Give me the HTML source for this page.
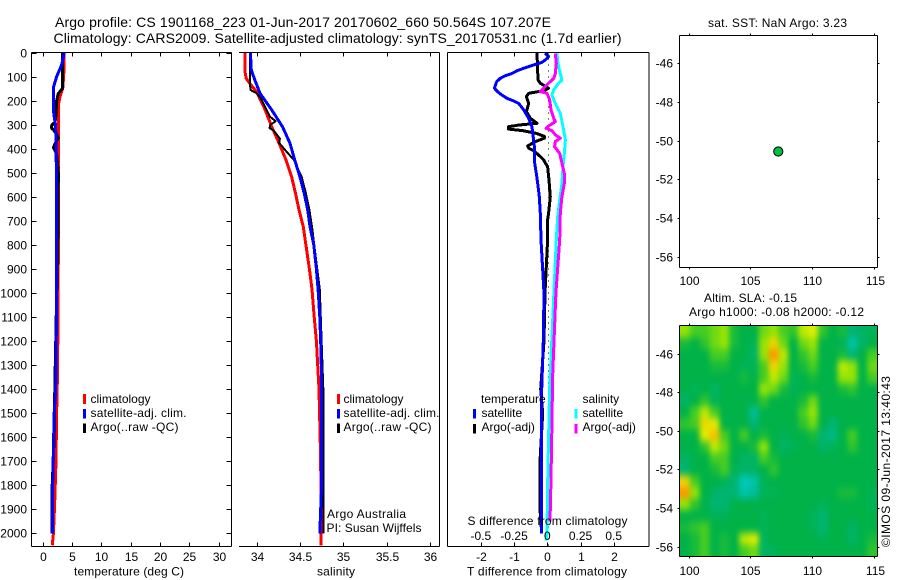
<!DOCTYPE html>
<html>
<head>
<meta charset="utf-8">
<title>Argo profile</title>
<style>
html,body{margin:0;padding:0;background:#fff;}
svg{display:block;}
text{font-family:"Liberation Sans",sans-serif;font-size:12px;fill:#000;}
.t{font-size:14px;}
</style>
</head>
<body>
<svg id="chart" width="900" height="580" viewBox="0 0 900 580" xmlns="http://www.w3.org/2000/svg">
<defs>
<clipPath id="hclip"><rect x="680" y="326" width="197" height="230"/></clipPath>
<filter id="hblur" x="-10%" y="-10%" width="120%" height="120%" color-interpolation-filters="sRGB"><feGaussianBlur stdDeviation="2.6 3.8"/></filter>
</defs>
<text class="t" x="55" y="27" textLength="496" lengthAdjust="spacing">Argo profile: CS 1901168_223 01-Jun-2017 20170602_660 50.564S 107.207E</text>
<text class="t" x="53.5" y="43" textLength="568" lengthAdjust="spacing">Climatology: CARS2009. Satellite-adjusted climatology: synTS_20170531.nc (1.7d earlier)</text>

<g id="p1"></g>
<g id="p2"></g>
<g id="p3"></g>
<g id="p4"></g>
<g id="p5"></g>

<text x="74" y="575.5" textLength="110" lengthAdjust="spacing">temperature (deg C)</text>
<text x="317" y="575.5" textLength="38" lengthAdjust="spacing">salinity</text>
<text x="467" y="575.5" textLength="160" lengthAdjust="spacing">T difference from climatology</text>
<text x="467.5" y="525" textLength="160" lengthAdjust="spacing">S difference from climatology</text>

<g>
<rect x="83" y="394" width="3" height="10" fill="#f00"/>
<rect x="83" y="409" width="3" height="9.5" fill="#00f"/>
<rect x="83" y="423.5" width="3" height="9.5" fill="#000"/>
<text x="90.5" y="403">climatology</text>
<text x="90.5" y="417" textLength="96" lengthAdjust="spacing">satellite-adj. clim.</text>
<text x="90.5" y="431" textLength="88" lengthAdjust="spacing">Argo(..raw -QC)</text>
</g>
<g>
<rect x="337" y="394" width="3" height="10" fill="#f00"/>
<rect x="337" y="409" width="3" height="9.5" fill="#00f"/>
<rect x="337" y="423.5" width="3" height="9.5" fill="#000"/>
<text x="343.5" y="403">climatology</text>
<text x="343.5" y="417" textLength="96" lengthAdjust="spacing">satellite-adj. clim.</text>
<text x="343.5" y="431" textLength="88" lengthAdjust="spacing">Argo(..raw -QC)</text>
<text x="327" y="518" textLength="79" lengthAdjust="spacing">Argo Australia</text>
<text x="326.5" y="532" textLength="95" lengthAdjust="spacing">PI: Susan Wijffels</text>
</g>
<g>
<rect x="473" y="409" width="3" height="9.5" fill="#00f"/>
<rect x="473" y="424" width="3" height="9.5" fill="#000"/>
<rect x="574.5" y="409" width="3" height="9.5" fill="#0ff"/>
<rect x="574.5" y="424" width="3" height="9.5" fill="#f0f"/>
<text x="481" y="403">temperature</text>
<text x="582.5" y="403">salinity</text>
<text x="481.5" y="417">satellite</text>
<text x="481.5" y="431">Argo(-adj)</text>
<text x="582.5" y="417">satellite</text>
<text x="582.5" y="431">Argo(-adj)</text>
</g>

<text x="708" y="27" textLength="139" lengthAdjust="spacing">sat. SST: NaN Argo: 3.23</text>
<text x="704" y="302" textLength="93" lengthAdjust="spacing">Altim. SLA: -0.15</text>
<text x="689" y="316" textLength="175" lengthAdjust="spacing">Argo h1000: -0.08 h2000: -0.12</text>
<text transform="translate(890,547) rotate(-90)" x="0" y="0" textLength="171" lengthAdjust="spacing">©IMOS 09-Jun-2017 13:40:43</text>
</svg>

<script>
// ---------- axis tick labels ----------
var depthTicks = [0,100,200,300,400,500,600,700,800,900,1000,1100,1200,1300,1400,1500,1600,1700,1800,1900,2000];
var tempTicks = [0,5,10,15,20,25,30];
var salTicks = [34,34.5,35,35.5,36];
var salTickLabels = ['34','34.5','35','35.5','36'];
var tDiffTicks = [-2,-1,0,1,2];
var sDiffTicks = [-0.5,-0.25,0,0.25,0.5];
var sDiffTickLabels = ['-0.5','-0.25','0','0.25','0.5'];
var lonTicks = [100,105,110,115];
var latTicks = [-46,-48,-50,-52,-54,-56];

// ---------- temperature profiles ----------
var tempClimDepth = [0,50,100,150,180,210,300,500,800,1000,1200,1400,1500,1700,1870,2000,2050];
var tempClim = [3.7,3.7,3.6,3.44,3.0,2.76,2.7,2.7,2.72,2.62,2.6,2.5,2.4,2.3,2.07,1.85,1.67];
var tempSatDepth = [0,50,100,145,240,290,300,430,500,1000,1400,1500,1650,1800,2000];
var tempSat = [3.72,3.27,2.4,1.85,1.85,2.13,2.25,2.3,2.42,2.42,2.25,2.0,1.85,1.73,1.67];
var tempArgoDepth = [0,100,150,170,200,260,290,300,305,315,320,340,355,370,395,420,500,700,1000,1400,1600,1800,2000];
var tempArgo = [3.38,3.38,3.38,2.7,2.4,2.3,2.13,1.6,1.56,1.56,1.85,2.4,2.7,2.3,1.85,2.4,2.7,2.65,2.42,2.1,2.0,1.65,1.65];

// ---------- salinity profiles ----------
var salClimDepth = [0,72,106,127,162,238,308,377,446,516,585,654,724,800,900,985,1100,1200,1400,1700,2000,2050];
var salClim = [33.87,33.865,33.88,33.92,34.0,34.1,34.175,34.26,34.34,34.405,34.45,34.49,34.54,34.57,34.61,34.64,34.665,34.69,34.72,34.74,34.745,34.745];
var salSatDepth = [0,72,113,169,238,308,377,446,516,585,654,724,800,900,985,1100,1250,1400,1800,1900,2000];
var salSat = [33.93,33.94,33.98,34.04,34.175,34.3,34.386,34.44,34.5,34.55,34.59,34.617,34.66,34.69,34.71,34.73,34.745,34.75,34.75,34.74,34.73];
var salArgoDepth = [0,120,155,169,190,240,266,285,300,313,325,358,375,405,446,516,585,654,724,985,1400,2000];
var salArgo = [33.925,33.925,33.93,34.0,34.05,34.12,34.155,34.22,34.16,34.15,34.2,34.27,34.26,34.33,34.43,34.52,34.57,34.61,34.64,34.73,34.77,34.77];

// ---------- difference profiles ----------
var tDiffSatDepth = [2,16,30,40,51,65,75,86,96,107,120,134,148,162,176,190,201,211,238,273,308,391,460,502,544,599,668,779,1000,1200,1400,2000];
var tDiffSat = [-0.06,0.04,-0.06,-0.16,-0.41,-0.71,-0.91,-1.06,-1.27,-1.42,-1.52,-1.56,-1.59,-1.5,-1.37,-1.21,-1.01,-0.86,-0.71,-0.56,-0.46,-0.39,-0.38,-0.33,-0.29,-0.24,-0.21,-0.19,-0.1,-0.12,-0.17,-0.17];
var tDiffArgoDepth = [2,113,127,148,158,169,183,211,245,273,294,301,308,318,324,335,348,356,370,388,398,408,426,446,474,530,599,668,703,779,1000,1200,1400,1500,1700,1900,2000];
var tDiffArgo = [-0.31,-0.28,-0.21,0.04,-0.11,-0.56,-0.63,-0.56,-0.63,-0.51,-0.31,-0.85,-1.17,-1.17,-0.75,-0.35,-0.09,-0.09,-0.36,-0.59,-0.56,-0.41,-0.26,-0.11,0.01,0.05,0.09,0.04,0,0.01,-0.07,-0.1,-0.2,-0.14,-0.22,-0.22,-0.17];
var sDiffSatDepth = [2,44,86,114,127,155,176,211,252,308,363,419,474,544,613,682,779,1000,1400,1600,1800,2000,2030];
var sDiffSat = [0.073,0.08,0.098,0.11,0.085,0.048,0.035,0.06,0.098,0.118,0.136,0.128,0.118,0.11,0.093,0.078,0.068,0.05,0.017,0.01,0.002,-0.002,-0.01];
var sDiffArgoDepth = [3,44,86,107,127,148,162,169,197,238,273,287,305,315,324,342,356,370,391,419,460,502,544,599,668,779,1000,1350,1500,1700,1850,1950];
var sDiffArgo = [0.06,0.068,0.06,0.048,0.01,-0.028,-0.053,-0.002,0.018,0.028,0.048,0.06,0.01,-0.008,0.035,0.06,0.098,0.06,0.055,0.093,0.11,0.128,0.128,0.11,0.098,0.093,0.065,0.04,0.036,0.03,0.025,0.02];

// ---------- map values ----------
var argoLon = [107.207];
var argoLat = [-50.564];
// sea level anomaly field, north to south, tenths of the colour scale; 0 is mid green
var slaGrid = [
[5,3,3,4,5,1,0,0,4,5,3,2,6,7,2,0,1,-3,-2,-1],
[1,0,2,4,5,1,0,-1,5,8,4,0,4,5,0,0,-1,-6,-2,0],
[0,0,0,3,3,0,0,-2,5,11,6,0,2,4,0,0,1,-3,0,3],
[0,0,0,1,1,0,-1,-1,3,8,5,0,1,3,0,0,6,5,0,4],
[0,0,0,0,0,0,1,0,3,6,4,-1,0,1,0,0,5,5,0,3],
[0,-1,0,-2,0,0,0,0,5,4,1,-1,0,0,0,0,1,2,0,0],
[-2,0,2,-1,0,0,0,0,2,0,0,0,1,4,0,0,0,0,0,0],
[0,3,6,3,0,0,0,-5,0,0,0,0,3,5,0,0,0,0,0,0],
[2,3,8,7,0,0,0,-3,0,0,0,0,2,4,0,-3,0,0,0,0],
[0,0,7,9,3,0,3,0,1,0,-1,0,0,1,-3,-4,0,3,0,0],
[0,0,2,6,4,0,0,1,5,0,-2,-1,0,0,-2,-1,0,2,0,0],
[-2,0,0,3,3,0,-2,-2,3,1,0,0,0,0,0,0,0,0,0,0],
[-3,0,0,1,3,-1,-2,-2,0,2,0,0,0,0,0,0,0,0,0,0],
[8,3,0,0,-1,-3,-7,-6,-1,0,0,0,0,0,0,0,0,0,0,0],
[11,5,0,-2,-3,-3,-6,-5,-1,-1,0,0,0,0,0,0,1,1,0,-1],
[5,2,0,-3,-3,0,0,0,0,0,0,0,0,0,-1,0,0,0,0,-1],
[0,0,0,-1,-1,0,0,0,-1,0,0,0,0,-1,-3,0,0,0,0,0],
[1,2,3,0,0,0,0,0,-1,0,0,0,0,-1,-3,0,0,-2,0,0],
[0,1,3,0,1,0,6,7,-1,0,0,0,0,0,-1,0,0,-2,0,1],
[0,1,3,0,1,0,3,4,-2,-1,0,0,0,0,0,0,0,0,0,2]
];

// ---------- axis functions ----------
var SVGNS = 'http://www.w3.org/2000/svg';
function yDepth(d){ return 52.7 + 0.2403 * d; }
function xTemp(v){ return 42.5 + 5.87 * v; }
function xSal(v){ return 256.5 + 86.75 * (v - 34); }
function xTDiff(v){ return 547.3 + 33.2 * v; }
function xSDiff(v){ return 547.3 + 132.8 * v; }
function xLon(v){ return 688.6 + 12.33 * (v - 100); }
function yLat4(v){ return 63.3 + 19.33 * (-46 - v); }
function yLat5(v){ return 353.5 + 19.32 * (-46 - v); }

function mk(tag, parent, attrs){
  var el = document.createElementNS(SVGNS, tag);
  for (var k in attrs) el.setAttribute(k, attrs[k]);
  parent.appendChild(el);
  return el;
}
function seg(parent, x1, y1, x2, y2, nm){
  var el = mk('line', parent, {x1:x1, y1:y1, x2:x2, y2:y2, stroke:'#000', 'stroke-width':1, 'shape-rendering':'crispEdges'});
  
  
  return el;
}
function label(parent, x, y, str, anchor, nm){
  var el = mk('text', parent, {x:x, y:y, 'text-anchor':anchor});
  el.textContent = str;
  
  
  return el;
}
function profile(parent, depths, vals, xf, colour, width, nm){
  var pts = [];
  for (var i = 0; i < depths.length; i++) pts.push(xf(vals[i]).toFixed(1) + ',' + yDepth(depths[i]).toFixed(1));
  var el = mk('polyline', parent, {points:pts.join(' '), fill:'none', stroke:colour, 'stroke-width':width, 'stroke-linejoin':'round', 'shape-rendering':'crispEdges'});
  
  
  return el;
}
var L = 31.5, R = 231.5, T = 52.5, B = 546.5;

// ---------- temperature panel ----------
var p1 = document.getElementById('p1');
profile(p1, tempClimDepth, tempClim, xTemp, '#f00', 3, 'temperature-climatology-line');
profile(p1, tempArgoDepth, tempArgo, xTemp, '#000', 3, 'temperature-argo-line');
profile(p1, tempSatDepth, tempSat, xTemp, '#00f', 3, 'temperature-satellite-line');
seg(p1, L, T, R, T, 'temperature-axis-top');
seg(p1, L, B, R, B, 'temperature-axis-bottom');
seg(p1, L, T, L, B, 'temperature-axis-left');
seg(p1, R, T, R, B, 'temperature-axis-right');
depthTicks.forEach(function(d){
  var y = Math.round(yDepth(d)) + 0.5;
  seg(p1, L, y, L + 5, y, 'depth-tick-left');
  seg(p1, R - 5, y, R, y, 'depth-tick-right');
  label(p1, 27, y + 4, String(d), 'end', 'depth-tick-label');
});
tempTicks.forEach(function(v){
  var x = Math.round(xTemp(v)) + 0.5;
  seg(p1, x, T, x, T + 4, 'temperature-tick-top');
  seg(p1, x, B - 4, x, B, 'temperature-tick-bottom');
  label(p1, x, 561, String(v), 'middle', 'temperature-tick-label');
});

// ---------- salinity panel ----------
var p2 = document.getElementById('p2');
profile(p2, salClimDepth, salClim, xSal, '#f00', 3, 'salinity-climatology-line');
profile(p2, salArgoDepth, salArgo, xSal, '#000', 2, 'salinity-argo-line');
profile(p2, salSatDepth, salSat, xSal, '#00f', 3, 'salinity-satellite-line');
seg(p2, 239, T, 439.5, T, 'salinity-axis-top');
seg(p2, 239, B, 439.5, B, 'salinity-axis-bottom');
seg(p2, 439.5, T, 439.5, B, 'salinity-axis-right');
salTicks.forEach(function(v, i){
  var x = Math.round(xSal(v)) + 0.5;
  seg(p2, x, T, x, T + 4, 'salinity-tick-top');
  seg(p2, x, B - 4, x, B, 'salinity-tick-bottom');
  label(p2, x, 561, salTickLabels[i], 'middle', 'salinity-tick-label');
});

// ---------- difference panel ----------
var p3 = document.getElementById('p3');
var zero = mk('line', p3, {x1:548.5, y1:T, x2:548.5, y2:B, stroke:'#000', 'stroke-width':1, 'stroke-dasharray':'1 5', 'shape-rendering':'crispEdges'});


profile(p3, tDiffArgoDepth, tDiffArgo, xTDiff, '#000', 3, 't-difference-argo-line');
profile(p3, tDiffSatDepth, tDiffSat, xTDiff, '#00f', 3, 't-difference-satellite-line');
profile(p3, sDiffSatDepth, sDiffSat, xSDiff, '#0ff', 3, 's-difference-satellite-line');
profile(p3, sDiffArgoDepth, sDiffArgo, xSDiff, '#f0f', 3, 's-difference-argo-line');
seg(p3, 447.5, T, 649, T, 'difference-axis-top');
seg(p3, 447.5, B, 649, B, 'difference-axis-bottom');
seg(p3, 447.5, T, 447.5, B, 'difference-axis-left');
seg(p3, 649, T, 649, B, 'difference-axis-right');
tDiffTicks.forEach(function(v){
  var x = Math.round(xTDiff(v)) + 0.5;
  seg(p3, x, T, x, T + 4, 't-difference-tick-top');
  seg(p3, x, B - 4, x, B, 't-difference-tick-bottom');
  label(p3, x, 561, String(v), 'middle', 't-difference-tick-label');
});
sDiffTicks.forEach(function(v, i){
  label(p3, xSDiff(v), 540, sDiffTickLabels[i], 'middle', 's-difference-tick-label');
});

// ---------- SST map ----------
var p4 = document.getElementById('p4');
seg(p4, 679.5, 35.5, 877.5, 35.5, 'sst-map-axis-top');
seg(p4, 679.5, 267.5, 877.5, 267.5, 'sst-map-axis-bottom');
seg(p4, 679.5, 35.5, 679.5, 267.5, 'sst-map-axis-left');
seg(p4, 877.5, 35.5, 877.5, 267.5, 'sst-map-axis-right');
lonTicks.forEach(function(v){
  var x = Math.round(xLon(v)) + 0.5;
  seg(p4, x, 33.5, x, 35.5, 'sst-lon-tick-top');
  seg(p4, x, 267.5, x, 269.5, 'sst-lon-tick-bottom');
  label(p4, v === 115 ? x + 1 : x, 285, String(v), 'middle', 'sst-lon-tick-label');
});
latTicks.forEach(function(v){
  var y = Math.round(yLat4(v)) + 0.5;
  seg(p4, 677.5, y, 679.5, y, 'sst-lat-tick-left');
  seg(p4, 877.5, y, 879.5, y, 'sst-lat-tick-right');
  label(p4, 673, y + 4, String(v), 'end', 'sst-lat-tick-label');
});
argoLon.forEach(function(v, i){
  var c = mk('circle', p4, {cx:xLon(v) + 0.8, cy:yLat4(argoLat[i]), r:4.6, fill:'#00c040', stroke:'#000', 'stroke-width':1});
  
  
});

// ---------- SLA map ----------
var p5 = document.getElementById('p5');
function slaColour(v){
  var stops = [[-9,0,215,215],[-6,0,195,170],[-3,0,180,115],[0,0,178,72],[3,70,205,35],[5,150,228,5],[7,225,238,0],[9,250,190,0],[12,255,130,0]];
  if (v <= stops[0][0]) return 'rgb(0,215,215)';
  for (var i = 1; i < stops.length; i++){
    if (v <= stops[i][0]){
      var a = stops[i-1], b = stops[i], f = (v - a[0]) / (b[0] - a[0]);
      return 'rgb(' + Math.round(a[1]+(b[1]-a[1])*f) + ',' + Math.round(a[2]+(b[2]-a[2])*f) + ',' + Math.round(a[3]+(b[3]-a[3])*f) + ')';
    }
  }
  return 'rgb(255,130,0)';
}
var clip = mk('g', p5, {'clip-path':'url(#hclip)'});


var cells = mk('g', clip, {filter:'url(#hblur)'});
var nR = slaGrid.length, nC = slaGrid[0].length;
var cw = 197 / nC, ch = 230 / nR;
slaGrid.forEach(function(row, r){
  row.forEach(function(v, c){
    var x0 = 680 + c * cw, y0 = 326 + r * ch, w = cw + 0.5, h = ch + 0.5;
    if (c === 0){ x0 -= 15; w += 15; }
    if (c === nC - 1){ w += 15; }
    if (r === 0){ y0 -= 15; h += 15; }
    if (r === nR - 1){ h += 15; }
    var cell = mk('rect', cells, {x:x0, y:y0, width:w, height:h, fill:slaColour(v)});
    
    
  });
});
seg(p5, 679.5, 325.5, 877.5, 325.5, 'sla-map-axis-top');
seg(p5, 679.5, 556.5, 877.5, 556.5, 'sla-map-axis-bottom');
seg(p5, 679.5, 325.5, 679.5, 556.5, 'sla-map-axis-left');
seg(p5, 877.5, 325.5, 877.5, 556.5, 'sla-map-axis-right');
lonTicks.forEach(function(v){
  var x = Math.round(xLon(v)) + 0.5;
  seg(p5, x, 323.5, x, 325.5, 'sla-lon-tick-top');
  seg(p5, x, 556.5, x, 558.5, 'sla-lon-tick-bottom');
  label(p5, v === 115 ? x + 1 : x, 575, String(v), 'middle', 'sla-lon-tick-label');
});
latTicks.forEach(function(v){
  var y = Math.round(yLat5(v)) + 0.5;
  seg(p5, 677.5, y, 679.5, y, 'sla-lat-tick-left');
  seg(p5, 877.5, y, 879.5, y, 'sla-lat-tick-right');
  label(p5, 673, y + 4, String(v), 'end', 'sla-lat-tick-label');
});
</script>
</body>
</html>
